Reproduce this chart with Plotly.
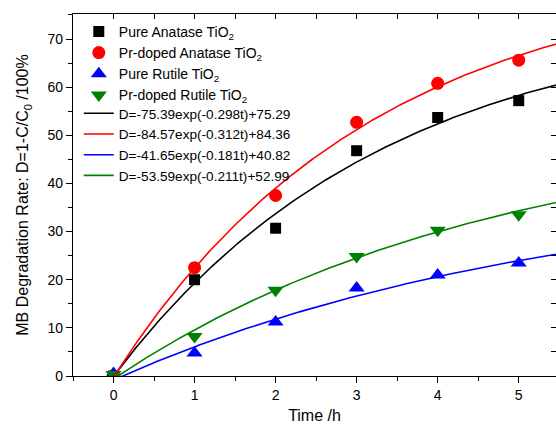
import numpy as np
import plotly.graph_objects as go

# Irradiation time (h) and measured degradation (%)
time_h = [0, 1, 2, 3, 4, 5]
pure_anatase = [0.0, 20.0, 30.7, 46.8, 53.7, 57.2]
pr_anatase = [0.0, 22.5, 37.5, 52.7, 60.8, 65.6]
pure_rutile = [0.5, 4.8, 11.2, 18.3, 21.0, 23.5]
pr_rutile = [0.3, 8.2, 17.8, 24.8, 30.3, 33.5]

# First-order fit parameters: D = A*exp(k*t) + C
fit_A = [-75.39, -84.57, -41.65, -53.59]
fit_k = [-0.298, -0.312, -0.181, -0.211]
fit_C = [75.29, 84.36, 40.82, 52.99]

names = ["Pure Anatase TiO<sub>2</sub>", "Pr-doped Anatase TiO<sub>2</sub>",
         "Pure Rutile TiO<sub>2</sub>", "Pr-doped Rutile TiO<sub>2</sub>"]
colors = ["#000000", "#FF0000", "#0000FF", "#008000"]
symbols = ["square", "circle", "triangle-up", "triangle-down"]
sizes = [11, 13, 14, 14]
series = [pure_anatase, pr_anatase, pure_rutile, pr_rutile]

FONT = "Liberation Sans, Arial, sans-serif"
X_RANGE = [-0.5, 5.46]
Y_RANGE = [0, 75.2]

fig = go.Figure()

for vals, name, col, sym, sz in zip(series, names, colors, symbols, sizes):
    fig.add_trace(go.Scatter(
        x=time_h, y=vals, mode="markers", name=name,
        marker=dict(symbol=sym, size=sz, color=col, line=dict(width=0)),
    ))

t_fit = np.linspace(0, 5.6, 300)
for A, k, C, col in zip(fit_A, fit_k, fit_C, colors):
    label = f"D={A:.2f}exp({k:.3f}t)+{C:.2f}"
    fig.add_trace(go.Scatter(
        x=t_fit, y=A * np.exp(k * t_fit) + C, mode="lines", name=label,
        line=dict(color=col, width=1.6), legend="legend2",
    ))

# Carrier for the mirrored top/right axes with inward ticks
fig.add_trace(go.Scatter(x=[None], y=[None], xaxis="x2", yaxis="y2",
                         showlegend=False, hoverinfo="skip"))

axis_common = dict(showgrid=False, zeroline=False, linecolor="black", linewidth=1.2,
                   tickcolor="black", tickwidth=1.2)
legend_common = dict(xanchor="left", yanchor="top", bgcolor="rgba(0,0,0,0)",
                     borderwidth=0, tracegroupgap=0, itemwidth=30)

fig.update_layout(
    width=556, height=429,
    margin=dict(l=73, r=0, t=14, b=53),
    paper_bgcolor="white", plot_bgcolor="white",
    font=dict(family=FONT, color="black", size=14),
    xaxis=dict(range=X_RANGE, dtick=1, tick0=0, ticks="outside", ticklen=6,
               minor=dict(ticks="outside", ticklen=4, dtick=0.5, tick0=0, tickcolor="black"),
               title=dict(text="Time /h", font=dict(size=16), standoff=7),
               tickfont=dict(size=14), **axis_common),
    yaxis=dict(range=Y_RANGE, dtick=10, tick0=0, ticks="outside", ticklen=6,
               minor=dict(ticks="outside", ticklen=4, dtick=5, tick0=0, tickcolor="black"),
               title=dict(text="MB Degradation Rate: D=1-C/C<sub>0</sub> /100%",
                          font=dict(size=16), standoff=14),
               tickfont=dict(size=14), **axis_common),
    xaxis2=dict(range=X_RANGE, overlaying="x", side="top", anchor="y",
                showticklabels=False, dtick=0.5, tick0=0, ticks="inside", ticklen=5,
                **axis_common),
    yaxis2=dict(range=Y_RANGE, overlaying="y", side="right", anchor="x",
                showticklabels=False, dtick=5, tick0=0, ticks="inside", ticklen=5,
                **axis_common),
    legend=dict(x=0.012, y=0.995, font=dict(family=FONT, size=14), **legend_common),
    legend2=dict(x=0.012, y=0.768, font=dict(family=FONT, size=13.6), **legend_common),
    showlegend=True,
)

fig.write_html("out.html")
